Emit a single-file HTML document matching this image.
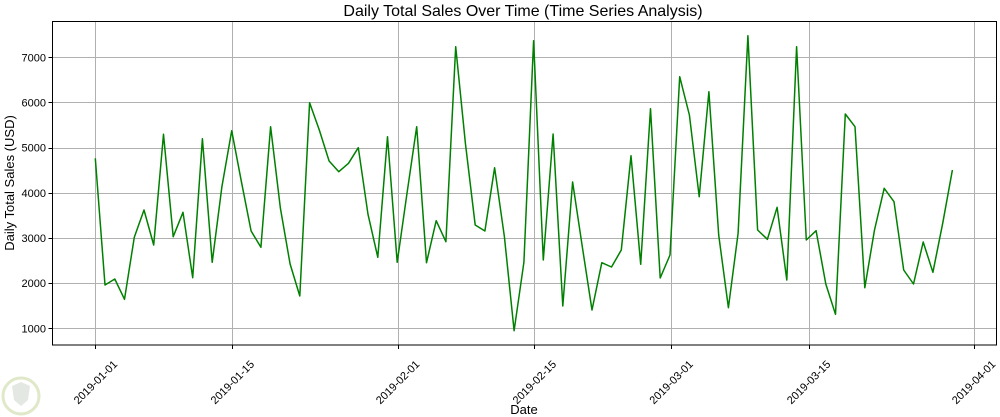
<!DOCTYPE html>
<html><head><meta charset="utf-8"><style>
html,body{margin:0;padding:0;background:#fff;}
svg{display:block;font-family:"Liberation Sans","DejaVu Sans",sans-serif;}
</style></head><body>
<svg id="s" width="1000" height="417" viewBox="0 0 1000 417" xmlns="http://www.w3.org/2000/svg">
<rect width="1000" height="417" fill="#fff"/>
<g id="grid" stroke="#b0b0b0" stroke-width="1"></g>
<polyline id="line" fill="none" stroke="#008000" stroke-width="1.5" stroke-linejoin="round"/>
<rect x="52.5" y="21.5" width="944" height="323.5" fill="none" stroke="#000" stroke-width="1"/>
<g id="ticks" stroke="#000" stroke-width="1"></g>
<g id="labels" font-size="11" fill="#000"></g>
<text x="523" y="16" font-size="16" text-anchor="middle">Daily Total Sales Over Time (Time Series Analysis)</text>
<text x="524" y="414" font-size="13" text-anchor="middle">Date</text>
<text transform="translate(14,183) rotate(-90)" font-size="13" text-anchor="middle">Daily Total Sales (USD)</text>
<circle cx="21" cy="396" r="18" fill="none" stroke="#dfe8c8" stroke-width="3"/>
<path d="M12 386 L21 382 L30 386 L28 400 L21 406 L14 400 Z" fill="#e3e8e3"/>
</svg>
<script>
var ys=[158.3,285,279,299.3,237.3,210,245,134.3,236.7,212.3,277.7,138.7,262.3,186.7,130.7,181.7,231,247.3,126.7,208.3,264,296,102.7,130,161,171.7,163.3,147.7,214.3,257.3,136.7,262.3,193.3,126.7,262.7,220.7,241.7,46.7,143.3,225,231,167.7,236.7,330.7,262.3,40.7,260,134,306,182,246.7,310,262.7,267,250,155.7,264.3,108.7,278,255,76.7,115,196.7,91.7,235,307.7,233.3,35.7,230,239.3,207.3,280,46.7,240,230.7,284,314.3,114,126.7,287.7,230,188.3,201.7,270,284,242,272.3,223.3,170];
var pts=ys.map(function(y,i){return (95.3+i*9.74).toFixed(1)+","+y;}).join(" ");
document.getElementById("line").setAttribute("points",pts);
var ns="http://www.w3.org/2000/svg";
function el(t,a,p,txt){var e=document.createElementNS(ns,t);for(var k in a)e.setAttribute(k,a[k]);if(txt)e.textContent=txt;document.getElementById(p).appendChild(e);}
var xt=[[95.3,"2019-01-01"],[232.2,"2019-01-15"],[397.5,"2019-02-01"],[534.2,"2019-02-15"],[671,"2019-03-01"],[808.5,"2019-03-15"],[973.5,"2019-04-01"]];
xt.forEach(function(t){var x=Math.round(t[0])+0.5;el("line",{x1:x,x2:x,y1:21.5,y2:345},"grid");el("line",{x1:x,x2:x,y1:345,y2:349},"ticks");
el("text",{x:0,y:4,"text-anchor":"middle",transform:"translate("+t[0]+",382) rotate(-45)"},"labels",t[1]);});
for(var v=1000;v<=7000;v+=1000){var y=57.3+(7000-v)/1000*45.17;var yy=Math.round(y)+0.5;
el("line",{x1:52.5,x2:996.5,y1:yy,y2:yy},"grid");el("line",{x1:48.5,x2:52.5,y1:yy,y2:yy},"ticks");
el("text",{x:46,y:y+4,"text-anchor":"end"},"labels",String(v));}
</script>
</body></html>
